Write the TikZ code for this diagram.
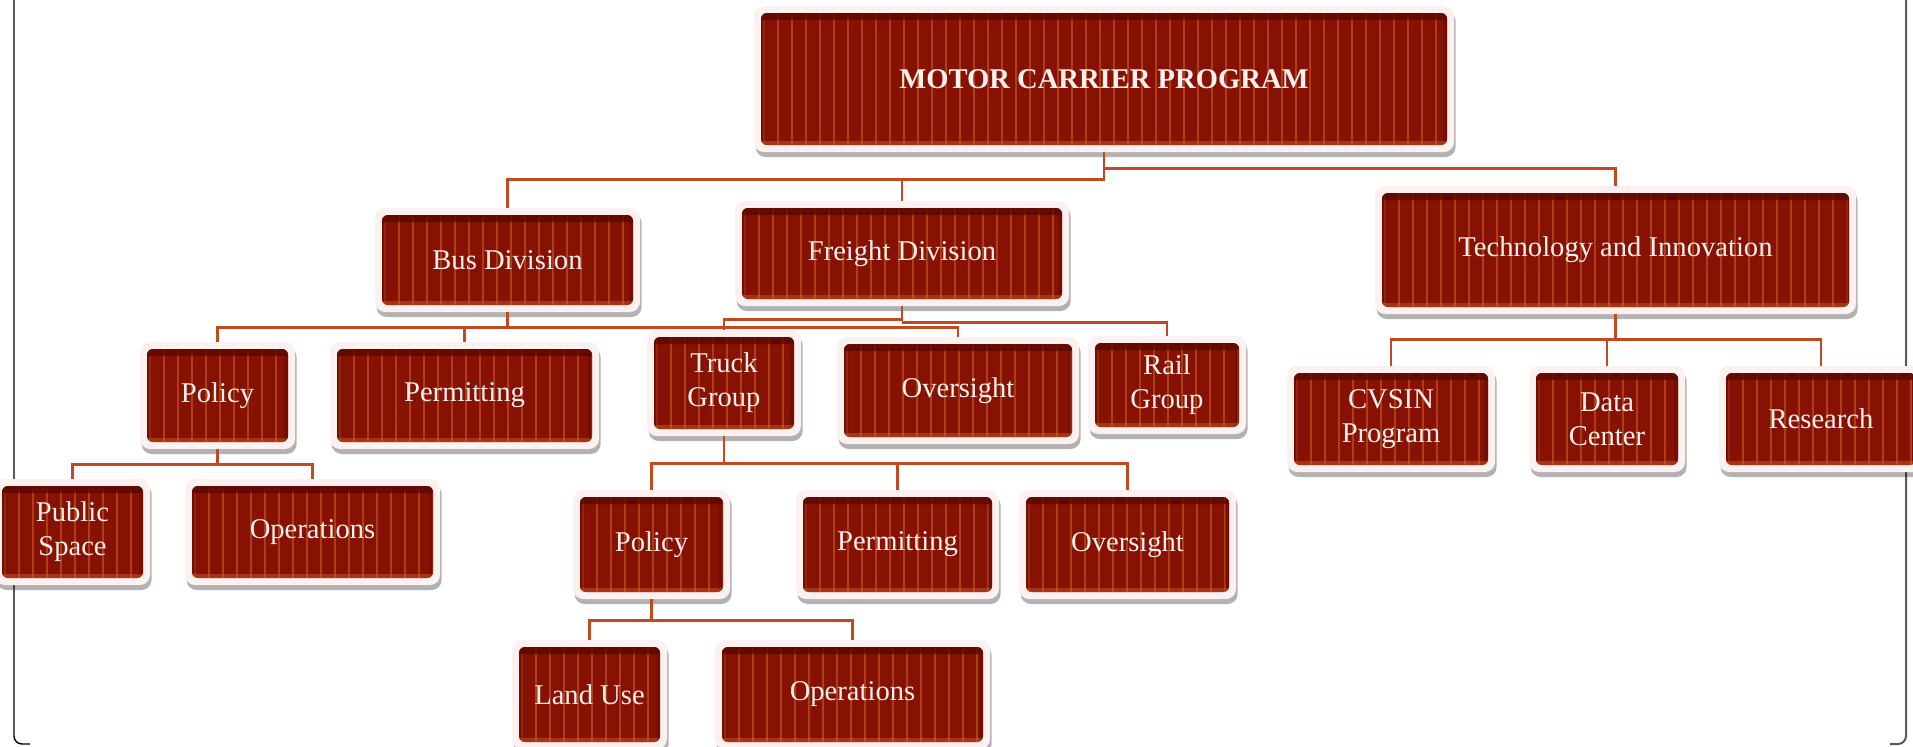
\documentclass[tikz,border=0pt]{standalone}
\usepackage{fontspec}
\setmainfont{Liberation Serif}
\usetikzlibrary{shadows}
\definecolor{boxred}{RGB}{135,17,2}
\definecolor{stripec}{RGB}{205,100,40}
\definecolor{bandc}{RGB}{90,8,0}
\definecolor{rimc}{RGB}{252,240,240}
\definecolor{connc}{RGB}{196,72,32}
\definecolor{txtc}{RGB}{250,240,238}
\tikzset{
  orgbox/.style 2 args={
    minimum width=#1*0.5pt, minimum height=#2*0.5pt, inner sep=0pt,
    rounded corners=5pt, fill=rimc,
    drop shadow={shadow xshift=0.8pt, shadow yshift=-2.5pt, opacity=0.3, fill=black},
    text=txtc, align=center, font=\fontsize{14.3}{17}\selectfont,
    path picture={
      \begin{scope}
      \path[clip, rounded corners=3pt] ([shift={(3.5pt,3.5pt)}]path picture bounding box.south west) rectangle ([shift={(-3.5pt,-3.5pt)}]path picture bounding box.north east);
      \fill[boxred] (path picture bounding box.south west) rectangle (path picture bounding box.north east);
      \foreach \k in {0,...,50}{
        \draw[stripec, line width=0.9pt, opacity=0.55] ([xshift=\k*7pt+5pt]path picture bounding box.south west) -- ([xshift=\k*7pt+5pt]path picture bounding box.north west);
      }
      \fill[bandc, opacity=0.8] ([yshift=-7pt]path picture bounding box.north west) rectangle (path picture bounding box.north east);
      \fill[bandc, opacity=0.4] (path picture bounding box.south west) rectangle ([xshift=5.5pt]path picture bounding box.north west);
      \fill[bandc, opacity=0.4] (path picture bounding box.south east) rectangle ([xshift=-5.5pt]path picture bounding box.north east);
      \fill[stripec, opacity=.45] ([yshift=5.5pt]path picture bounding box.south west) rectangle (path picture bounding box.south east);
      \end{scope}
    }
  },
  conn/.style={draw=connc, line width=1.3pt},
  framel/.style={line width=0.7pt, rounded corners=4pt},
}
\begin{document}
\begin{tikzpicture}[x=0.5pt, y=-0.5pt]
\useasboundingbox (0,0) rectangle (1913,746);
% frame
\draw[framel, black] (14,-5) -- (14,744) -- (30,744);
\draw[framel, black!65, line width=1pt] (1906,-5) -- (1906,744) -- (1890,744);
% nodes
\node[orgbox={700}{146}, font=\bfseries\fontsize{14.3}{17}\selectfont] (mcp) at (1104,79) {MOTOR CARRIER PROGRAM};
\node[orgbox={265}{104}] (bus) at (507.5,260) {Bus Division};
\node[orgbox={334}{105}] (freight) at (902,253.5) {Freight Division};
\node[orgbox={481}{128}] (tech) at (1615.5,250) {Technology and Innovation};
\node[orgbox={155}{107}] (pol1) at (217.5,395.5) {Policy};
\node[orgbox={269}{107}] (perm1) at (464.5,395.5) {Permitting};
\node[orgbox={154}{106}] (truck) at (724,383) {Truck\\Group};
\node[orgbox={242}{107}] (ovF) at (958,390.5) {Oversight};
\node[orgbox={158}{98}] (rail) at (1167,385) {Rail\\Group};
\node[orgbox={155}{106}] (pub) at (72.5,532) {Public\\Space};
\node[orgbox={255}{106}] (ops1) at (312.5,532) {Operations};
\node[orgbox={157}{109}] (pol2) at (651.5,544.5) {Policy};
\node[orgbox={203}{109}] (perm2) at (897.5,544.5) {Permitting};
\node[orgbox={217}{109}] (ov2) at (1127.5,544.5) {Oversight};
\node[orgbox={155}{109}] (land) at (589.5,694.5) {Land Use};
\node[orgbox={275}{109}] (ops2) at (852.5,694.5) {Operations};
\node[orgbox={208}{106}] (cvsin) at (1391,419) {CVSIN\\Program};
\node[orgbox={156}{106}] (data) at (1607,419) {Data\\Center};
\node[orgbox={204}{106}] (res) at (1821,419) {Research};
% connectors
\draw[conn] (mcp.south) -- ++(0,27) coordinate (j0) -| (bus.north);
\draw[conn] (j0) -| (freight.north);
\draw[conn] ([yshift=-8pt]mcp.south) -| (tech.north);
\draw[conn] (bus.south) -- ++(0,15) coordinate (j1) -| (pol1.north);
\draw[conn] (j1) -| (perm1.north);
\draw[conn] (j1) -| (ovF.north);
\draw[conn] (freight.south) -- ++(0,13) coordinate (j2) -| (truck.north);
\draw[conn] ([yshift=-8pt]freight.south) -| (rail.north);
\draw[conn] (pol1.south) -- ++(0,15) coordinate (j3) -| (pub.north);
\draw[conn] (j3) -| (ops1.north);
\draw[conn] (truck.south) -- ++(0,27) coordinate (j4) -| (pol2.north);
\draw[conn] (j4) -| (perm2.north);
\draw[conn] (j4) -| (ov2.north);
\draw[conn] (pol2.south) -- ++(0,21) coordinate (j5) -| (land.north);
\draw[conn] (j5) -| (ops2.north);
\draw[conn] (tech.south) -- ++(0,25) coordinate (j6) -| (cvsin.north);
\draw[conn] (j6) -| (data.north);
\draw[conn] (j6) -| (res.north);
\end{tikzpicture}
\end{document}
